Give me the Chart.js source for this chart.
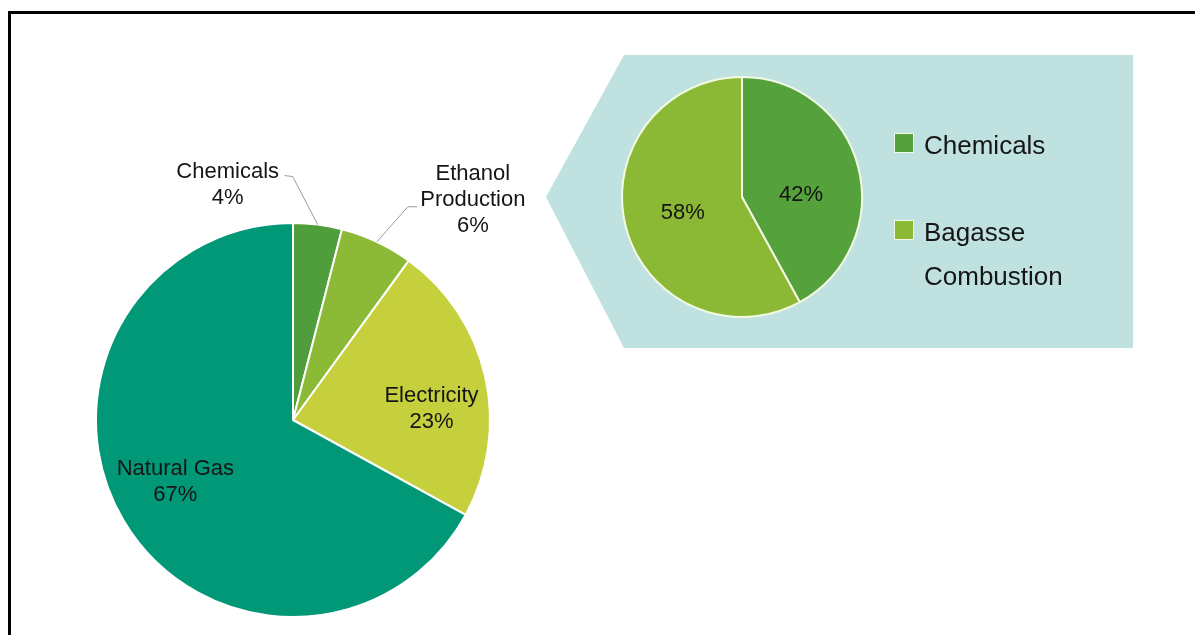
<!DOCTYPE html>
<html>
<head>
<meta charset="utf-8">
<script src="https://cdn.jsdelivr.net/npm/chart.js@4.4.1/dist/chart.umd.min.js"></script>
<style>
  html, body { margin: 0; padding: 0; background: #ffffff; overflow: hidden; }
  #wrap { position: relative; width: 1195px; height: 635px; }
  #frame { position: absolute; left: 8px; top: 11px; width: 1300px; height: 800px; border: 3px solid #000; box-sizing: border-box; }
  canvas { position: absolute; left: 0; top: 0; }
</style>
</head>
<body>
<div id="wrap">
  <div id="frame"></div>
  <canvas id="main" width="1195" height="635"></canvas>
  <canvas id="sub" width="1195" height="635"></canvas>
</div>
<script>
// ---- data ----
const mainCategories = ['Chemicals', 'Ethanol Production', 'Electricity', 'Natural Gas'];
const mainValues = [4, 6, 23, 67];
const mainLabelLines = [['Chemicals', '4%'], ['Ethanol', 'Production', '6%'], ['Electricity', '23%'], ['Natural Gas', '67%']];
const subCategories = ['Chemicals', 'Bagasse Combustion'];
const subValues = [42, 58];
const subLabelLines = [['42%'], ['58%']];
const subLegendLines = [['Chemicals'], ['Bagasse', 'Combustion']];

// ---- styles ----
const mainColors = ['#4f9e3b', '#8cba36', '#c5d03c', '#009877'];
const subColors = ['#55a13b', '#8cb935'];
const FONT = '"Liberation Sans", Arial, sans-serif';
const TEXT = '#151515';

// label placement styles (relative to the arc's edge point at mid-angle, or radial fraction)
const mainLabelStyle = [
  { outside: true, dx: -90, dy: -40, path: [[-25, -48], [-33, -49]] },
  { outside: true, dx: 96, dy: -42, path: [[31, -35], [40, -35]] },
  { frac: 0.71, dx: 2, dy: 19 },
  { frac: 0.67, dx: -4, dy: -5 }
];
const subLabelStyle = [
  { frac: 0.5, dx: 1, dy: 13 },
  { frac: 0.5, dx: -1, dy: 1 }
];

function drawLines(ctx, lines, cx, cy, lh) {
  const n = lines.length;
  lines.forEach((t, i) => {
    ctx.fillText(t, cx, cy + (i - (n - 1) / 2) * lh);
  });
}

function labelPlugin(lines, styles, fontSize, lh) {
  return {
    id: 'sliceLabels',
    afterDatasetsDraw(chart) {
      const ctx = chart.ctx;
      const meta = chart.getDatasetMeta(0);
      ctx.save();
      ctx.font = fontSize + 'px ' + FONT;
      ctx.fillStyle = TEXT;
      ctx.textAlign = 'center';
      ctx.textBaseline = 'middle';
      meta.data.forEach((arc, i) => {
        const p = arc.getProps(['x', 'y', 'startAngle', 'endAngle', 'outerRadius'], true);
        const mid = (p.startAngle + p.endAngle) / 2;
        const st = styles[i];
        if (st.outside) {
          const ex = p.x + Math.cos(mid) * p.outerRadius;
          const ey = p.y + Math.sin(mid) * p.outerRadius;
          ctx.strokeStyle = '#9a9a9a';
          ctx.lineWidth = 1;
          ctx.beginPath();
          ctx.moveTo(ex, ey);
          st.path.forEach(q => ctx.lineTo(ex + q[0], ey + q[1]));
          ctx.stroke();
          drawLines(ctx, lines[i], ex + st.dx, ey + st.dy, lh);
        } else {
          const r = p.outerRadius * st.frac;
          const cx = p.x + Math.cos(mid) * r + st.dx;
          const cy = p.y + Math.sin(mid) * r + st.dy;
          drawLines(ctx, lines[i], cx, cy, lh);
        }
      });
      ctx.restore();
    }
  };
}

const panelPlugin = {
  id: 'panel',
  beforeDraw(chart) {
    const ctx = chart.ctx;
    ctx.save();
    ctx.fillStyle = '#bfe2e0';
    ctx.beginPath();
    ctx.moveTo(546, 197);
    ctx.lineTo(624, 55);
    ctx.lineTo(1133, 55);
    ctx.lineTo(1133, 348);
    ctx.lineTo(624, 348);
    ctx.closePath();
    ctx.fill();
    ctx.restore();
  }
};

const legendPlugin = {
  id: 'customLegend',
  afterDraw(chart) {
    const ctx = chart.ctx;
    const colors = chart.data.datasets[0].backgroundColor;
    const items = [{ y: 147, lines: subLegendLines[0] }, { y: 234, lines: subLegendLines[1] }];
    ctx.save();
    ctx.font = '26px ' + FONT;
    ctx.textAlign = 'left';
    ctx.textBaseline = 'middle';
    items.forEach((it, i) => {
      const top = it.y - 13;
      ctx.fillStyle = '#f2f8e4';
      ctx.fillRect(894, top - 1, 20, 20);
      ctx.fillStyle = colors[i];
      ctx.fillRect(895, top, 18, 18);
      ctx.fillStyle = TEXT;
      it.lines.forEach((t, k) => ctx.fillText(t, 924, it.y + k * 44));
    });
    ctx.restore();
  }
};

Chart.defaults.font.family = FONT;

new Chart(document.getElementById('main'), {
  type: 'pie',
  data: {
    labels: mainCategories,
    datasets: [{
      data: mainValues,
      backgroundColor: mainColors,
      borderColor: '#ffffff',
      borderWidth: 2
    }]
  },
  options: {
    responsive: false,
    animation: false,
    layout: { padding: { left: 95, top: 222, right: 1195 - 95 - 396, bottom: 635 - 222 - 396 } },
    plugins: { legend: { display: false }, tooltip: { enabled: false } }
  },
  plugins: [labelPlugin(mainLabelLines, mainLabelStyle, 22, 26)]
});

new Chart(document.getElementById('sub'), {
  type: 'pie',
  data: {
    labels: subCategories,
    datasets: [{
      data: subValues,
      backgroundColor: subColors,
      borderColor: '#f3f9e3',
      borderWidth: 2
    }]
  },
  options: {
    responsive: false,
    animation: false,
    layout: { padding: { left: 621, top: 76, right: 1195 - 621 - 242, bottom: 635 - 76 - 242 } },
    plugins: { legend: { display: false }, tooltip: { enabled: false } }
  },
  plugins: [panelPlugin, labelPlugin(subLabelLines, subLabelStyle, 22, 26), legendPlugin]
});
</script>
</body>
</html>
